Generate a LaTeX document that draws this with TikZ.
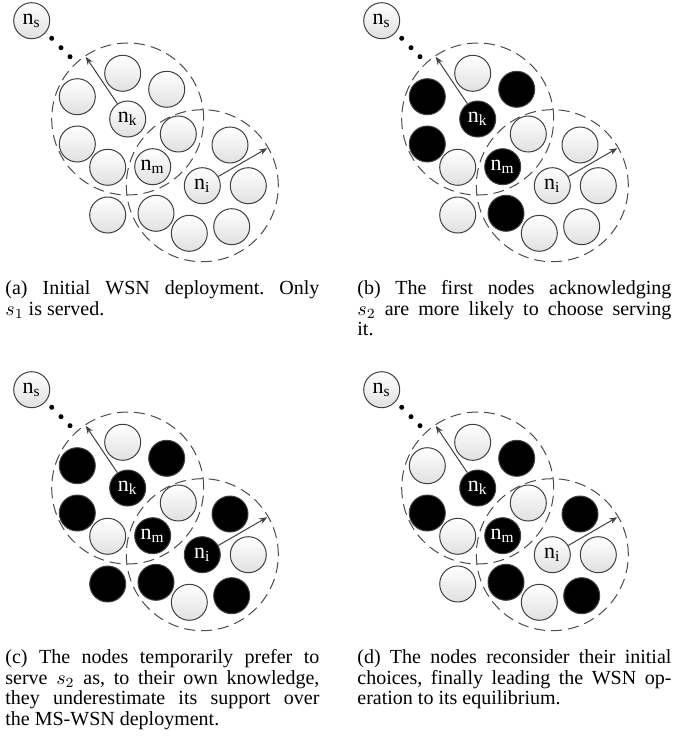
\documentclass[tikz,border=0pt]{standalone}
\usepackage{fontspec}
\setmainfont{Liberation Serif}
\usepackage{tikz}
\usetikzlibrary {arrows.meta,
                 calc}
\tikzset{
        base/.style={circle, draw=black!75, line width=0.5pt, minimum size=18pt,
                     inner sep=0pt, font=\fontsize{11}{12}\selectfont},
        idle/.style={base, top color=white, bottom color=black!12},
        serving/.style={base, fill=black, text=white},
        coverage/.style={draw=black!70, line width=0.5pt, dash pattern=on 5.5pt off 3pt},
        myarrow/.style={-{Stealth[length=4pt, width=3pt]}, draw=black!75, line width=0.5pt},
        capt/.style={anchor=north west, inner sep=0pt, text width=157pt, align=justify,
                     font=\fontsize{10}{10.2}\selectfont\frenchspacing},
 }
% one deployment: #1 prefix, #2 #3 #4 styles of n_k, n_m, n_i, #5 styles of the other nodes
\newcommand{\wsn}[5]{%
    \node[draw, idle] (#1s) at (31.7,20.7) {n\textsubscript{s}};
    \node[draw, #2] (#1k) at (127.7,119) {n\textsubscript{k}};
    \node[draw, #3] (#1m) at (152.7,166.7) {n\textsubscript{m}};
    \node[draw, #4] (#1i) at (202.3,185.7) {n\textsubscript{i}};
    \foreach \st [count=\j] in {#5} {
        \pgfmathsetmacro{\px}{{122.7,166.7,77.3,77.3,178.3,230,107.7,248.3,107.7,156,189.3,231.7}[\j-1]}
        \pgfmathsetmacro{\py}{{73.3,89.3,96.7,144,134,145,167.3,185.7,215,213.3,233.3,226.7}[\j-1]}
        \node[draw, \st] (#1\j) at (\px,\py) {};
    }
    \foreach \x/\y in {51.7/38.3, 61/47.7, 70/56.7}
        \fill (\x,\y) circle (1.25pt);
    \draw[coverage] (#1k) circle[radius=38pt];
    \draw[coverage] (#1i) circle[radius=38pt];
    \draw[myarrow] (#1k) -- ++(124:37.5pt) coordinate (#1kr);
    \draw[myarrow] (#1i) -- ++(30:37.5pt) coordinate (#1ir);
}
\begin{document}
\begin{tikzpicture}[x=0.5pt, y=-0.5pt]
    \useasboundingbox (0,0) rectangle (674,744);

    \wsn{a}{idle}{idle}{idle}{idle,idle,idle,idle,idle,idle,idle,idle,idle,idle,idle,idle}
    \begin{scope}[shift={(350,0)}]
        \wsn{b}{serving}{serving}{idle}{idle,serving,serving,serving,idle,idle,idle,idle,idle,serving,idle,idle}
    \end{scope}
    \begin{scope}[shift={(0,369)}]
        \wsn{c}{serving}{serving}{serving}{idle,serving,serving,serving,idle,serving,idle,idle,serving,serving,idle,serving}
    \end{scope}
    \begin{scope}[shift={(350,369)}]
        \wsn{d}{serving}{serving}{idle}{idle,serving,idle,serving,idle,serving,idle,idle,idle,serving,idle,serving}
    \end{scope}

    \node[capt] (capa) at (5,280.5) {(a) Initial WSN deployment. Only\linebreak
        $s_1$ is served.};
    \node[capt] (capb) at (357,280.5) {(b) The first nodes acknowledging\linebreak
        $s_2$ are more likely to choose serving\linebreak it.};
    \node[capt] (capc) at (5,649.5) {(c) The nodes temporarily prefer to\linebreak
        serve $s_2$ as, to their own knowledge,\linebreak
        they underestimate its support over\linebreak the MS-WSN deployment.};
    \node[capt] (capd) at (357,649.5) {(d) The nodes reconsider their initial\linebreak
        choices, finally leading the WSN op-\linebreak eration to its equilibrium.};

\end{tikzpicture}
\end{document}
